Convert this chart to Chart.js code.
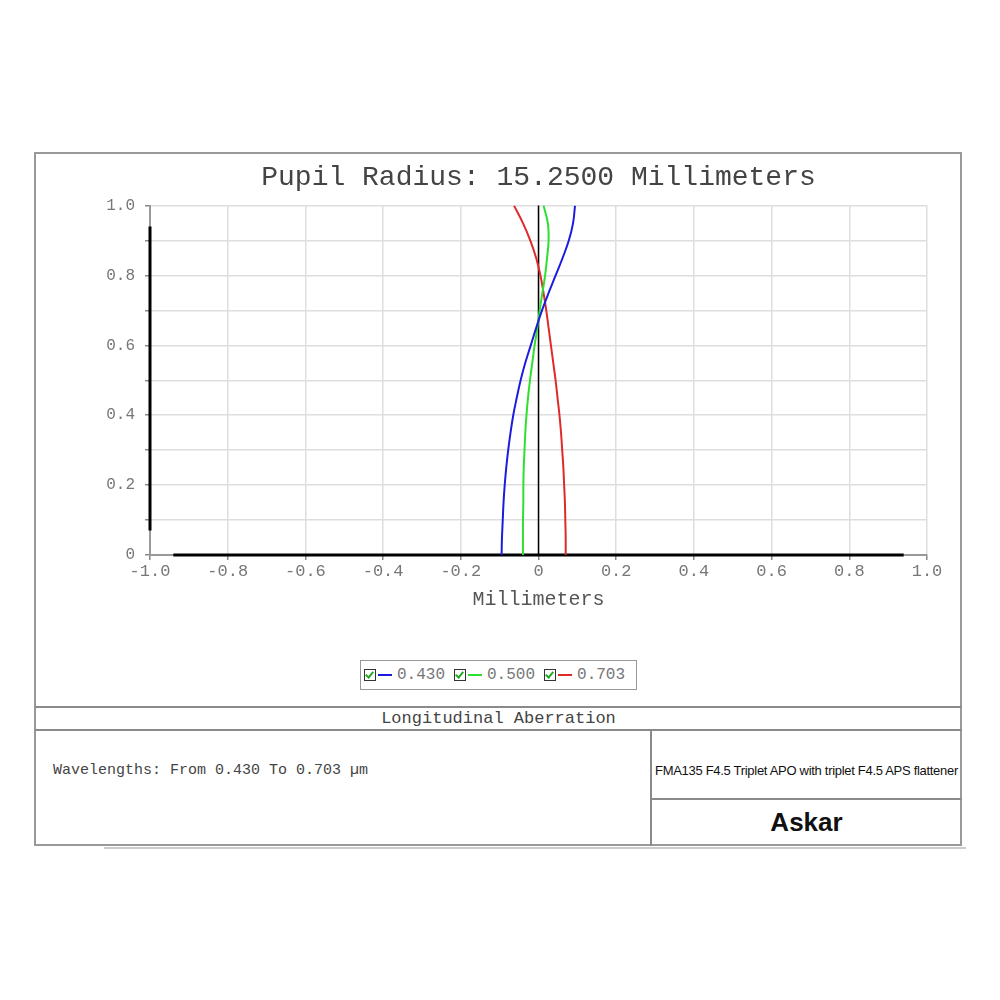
<!DOCTYPE html>
<html>
<head>
<meta charset="utf-8">
<script src="https://cdn.jsdelivr.net/npm/chart.js@4.4.1/dist/chart.umd.min.js"></script>
<style>
  body { margin: 0; background: #fff; width: 1000px; height: 1000px; position: relative; overflow: hidden; }
  .abs { position: absolute; }
  .hline { position: absolute; height: 2px; background: #8a8a8a; }
  .vline { position: absolute; width: 2px; background: #8a8a8a; }
  .mono { font-family: 'Liberation Mono', 'DejaVu Sans Mono', monospace; color: #444; }
  #legend { position: absolute; left: 360px; top: 660px; width: 277px; height: 30px; box-sizing: border-box;
            border: 1.5px solid #999; display: flex; align-items: center; padding-left: 3px; }
  .item { display: flex; align-items: center; margin-right: 9px; font-size: 16px; color: #777; }
  .chk { width: 10px; height: 10px; border: 1px solid #333; position: relative; margin-right: 2px; background: #fff; }
  .chk::after { content: ''; position: absolute; left: 2px; top: 0px; width: 3px; height: 6px;
                border: solid #22aa22; border-width: 0 2px 2px 0; transform: rotate(40deg); }
  .sw { width: 14px; height: 2px; margin-right: 5px; }
</style>
</head>
<body>
<div class="abs" style="left:34px;top:152px;width:928px;height:694px;border:2px solid #999;box-sizing:border-box;"></div>
<div class="abs" style="left:104px;top:847px;width:862px;height:2px;background:#ccc;"></div>
<canvas id="aberrationChart" class="abs" width="923" height="470" style="left:37px;top:154px;"></canvas>
<div id="legend" class="mono"></div>
<div class="hline" style="left:35px;top:706px;width:927px;"></div>
<div class="hline" style="left:35px;top:729px;width:927px;"></div>
<div class="abs mono" style="left:35px;top:709px;width:927px;text-align:center;font-size:17px;line-height:20px;">Longitudinal Aberration</div>
<div class="vline" style="left:650px;top:730px;height:116px;"></div>
<div class="hline" style="left:651px;top:798px;width:311px;"></div>
<div class="abs mono" style="left:53px;top:761px;font-size:15px;line-height:20px;">Wavelengths: From 0.430 To 0.703 µm</div>
<div class="abs" style="left:651px;top:762px;width:311px;text-align:center;font-family:'Liberation Sans Narrow','Liberation Sans',Arial,sans-serif;font-size:13px;line-height:18px;color:#111;white-space:nowrap;letter-spacing:-0.3px;">FMA135 F4.5 Triplet APO with triplet F4.5 APS flattener</div>
<div class="abs" style="left:651px;top:805px;width:311px;text-align:center;font-family:'Liberation Sans',Arial,sans-serif;font-weight:bold;font-size:26px;line-height:34px;color:#111;">Askar</div>

<script>
// pupil height (normalized) and focus shift in mm for each wavelength
const pupil = [0, 0.05, 0.1, 0.15, 0.2, 0.25, 0.3, 0.35, 0.4, 0.45, 0.5,
               0.55, 0.6, 0.65, 0.7, 0.75, 0.8, 0.85, 0.9, 0.95, 1.0];
const wavelengths = ['0.430', '0.500', '0.703'];
const shift430 = [-0.095, -0.094, -0.092, -0.090, -0.087, -0.083, -0.078, -0.072, -0.065, -0.056, -0.046,
                  -0.034, -0.020, -0.006, 0.009, 0.026, 0.044, 0.062, 0.078, 0.089, 0.094];
const shift500 = [-0.040, -0.040, -0.040, -0.039, -0.039, -0.038, -0.036, -0.034, -0.031, -0.027, -0.022,
                  -0.016, -0.010, -0.003, 0.003, 0.010, 0.017, 0.022, 0.026, 0.024, 0.013];
const shift703 = [0.070, 0.070, 0.069, 0.068, 0.066, 0.064, 0.061, 0.058, 0.054, 0.049, 0.044,
                  0.038, 0.032, 0.026, 0.020, 0.013, 0.005, -0.006, -0.021, -0.040, -0.063];
const lineColors = ['#1c1ce0', '#2ee02e', '#e02a2a'];

// black reference lines (focus zero, and the dark part of the axes)
const zeroLine = [{x: 0, y: 0}, {x: 0, y: 1}];
const xAxisDark = [{x: -0.94, y: 0}, {x: 0.94, y: 0}];
const yAxisDark = [{x: -1, y: 0.07}, {x: -1, y: 0.94}];

const monoFont = "'Liberation Mono', 'DejaVu Sans Mono', monospace";

function toPoints(xs) {
    return xs.map((x, i) => ({x: x, y: pupil[i]}));
}

const series = [shift430, shift500, shift703];
const datasets = series.map((s, i) => ({
    label: wavelengths[i],
    data: toPoints(s),
    borderColor: lineColors[i],
    borderWidth: 2,
    showLine: true,
    pointRadius: 0,
    tension: 0.4
}));
[zeroLine, xAxisDark, yAxisDark].forEach((d, i) => {
    datasets.push({
        label: 'ref' + i,
        data: d,
        borderColor: '#000',
        borderWidth: i === 0 ? 1.5 : 3,
        showLine: true,
        pointRadius: 0,
        clip: 4
    });
});

function fmt(v) {
    const r = Math.round(v * 10) / 10;
    return r === 0 ? '0' : r.toFixed(1);
}

const ctx = document.getElementById('aberrationChart').getContext('2d');
const chart = new Chart(ctx, {
    type: 'scatter',
    data: { datasets: datasets },
    options: {
        responsive: false,
        animation: false,
        layout: { padding: { left: 0, right: 33, top: 0, bottom: 0 } },
        plugins: {
            legend: { display: false },
            tooltip: { enabled: false },
            title: {
                display: true,
                fullSize: false,
                text: 'Pupil Radius: 15.2500 Millimeters',
                color: '#444',
                font: { family: monoFont, size: 28, weight: 'normal' },
                padding: { top: 7, bottom: 11 }
            }
        },
        scales: {
            x: {
                type: 'linear',
                min: -1, max: 1,
                afterFit: (s) => { s.height = 69; },
                border: { color: '#999', width: 2 },
                grid: { color: '#dedede', lineWidth: 1.5, tickLength: 5, tickColor: '#888' },
                ticks: {
                    stepSize: 0.2, padding: 1, color: '#777',
                    font: { family: monoFont, size: 17 },
                    maxRotation: 0,
                    callback: (v) => fmt(v)
                },
                title: {
                    display: true, text: 'Millimeters', color: '#555',
                    font: { family: monoFont, size: 20 },
                    padding: { top: 4, bottom: 12 }
                }
            },
            y: {
                type: 'linear',
                min: 0, max: 1,
                afterFit: (s) => { s.width = 113; },
                border: { color: '#999', width: 2 },
                grid: { color: '#dedede', lineWidth: 1.5, tickLength: 5, tickColor: '#888' },
                ticks: {
                    stepSize: 0.1, padding: 10, color: '#777',
                    font: { family: monoFont, size: 16 },
                    callback: (v) => (Math.round(v * 10) % 2 === 0 ? fmt(v) : '')
                }
            }
        }
    }
});

// legend box with check marks, like the original program draws it
const legendEl = document.getElementById('legend');
wavelengths.forEach((w, i) => {
    const item = document.createElement('div');
    item.className = 'item';
    item.innerHTML = '<span class="chk"></span><span class="sw" style="background:' + lineColors[i] + '"></span><span>' + w + '</span>';
    legendEl.appendChild(item);
});
</script>
</body>
</html>
